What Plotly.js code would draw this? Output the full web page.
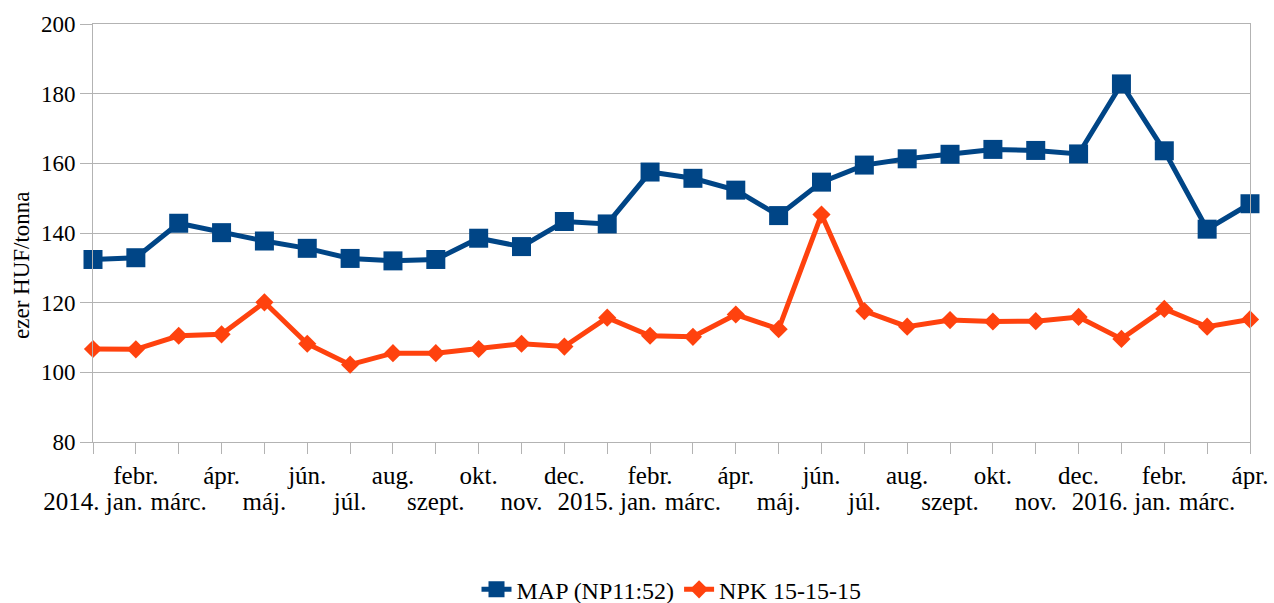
<!DOCTYPE html>
<html>
<head>
<meta charset="utf-8">
<script src="https://cdn.plot.ly/plotly-3.0.1.min.js"></script>
<style>html,body{margin:0;padding:0;background:#fff;}#chart{width:1274px;height:603px;}</style>
</head>
<body>
<div id="chart"></div>
<script>
const months = ["2014. jan.","febr.","márc.","ápr.","máj.","jún.","júl.","aug.","szept.","okt.","nov.","dec.",
  "2015. jan.","febr.","márc.","ápr.","máj.","jún.","júl.","aug.","szept.","okt.","nov.","dec.",
  "2016. jan.","febr.","márc.","ápr."];
const mapValues = [132.4,132.9,142.8,140.1,137.7,135.6,132.7,132.0,132.4,138.5,136.1,143.3,
  142.6,157.5,155.7,152.3,145.0,154.6,159.5,161.3,162.6,164.0,163.7,162.7,182.8,163.6,141.1,148.4];
const npkValues = [106.7,106.6,110.5,110.9,120.1,108.2,102.2,105.5,105.5,106.7,108.2,107.4,
  115.7,110.5,110.2,116.6,112.4,145.3,117.6,113.1,115.0,114.6,114.7,115.9,109.6,118.2,113.1,115.2];
const seriesNames = ["MAP (NP11:52)","NPK 15-15-15"];
const yTitle = "ezer HUF/tonna";

const idx = months.map((_, i) => i);
const lowerVals = idx.filter(i => i % 2 === 0);
const FONT = "Liberation Serif";
const GRID = "#b3b3b3";

const traces = [
  {x: idx, y: mapValues, name: seriesNames[0], type: "scatter", mode: "lines+markers",
   line: {color: "#004586", width: 5}, marker: {symbol: "square", size: 19, color: "#004586"}, cliponaxis: false},
  {x: idx, y: npkValues, name: seriesNames[1], type: "scatter", mode: "lines+markers",
   line: {color: "#ff420e", width: 5}, marker: {symbol: "diamond", size: 14, color: "#ff420e"}, cliponaxis: false},
  {x: idx, y: mapValues, xaxis: "x2", yaxis: "y", type: "scatter", mode: "markers",
   marker: {opacity: 0}, showlegend: false, hoverinfo: "skip"}
];

const layout = {
  width: 1274, height: 603,
  margin: {l: 93, r: 24, t: 24, b: 161, autoexpand: false},
  paper_bgcolor: "#fff", plot_bgcolor: "#fff",
  font: {family: FONT, size: 22, color: "#000"},
  showlegend: true,
  legend: {orientation: "h", x: 0.5, xanchor: "center", yref: "container", y: 0.022, yanchor: "middle",
    font: {family: FONT, size: 24, color: "#000"}, traceorder: "normal"},
  xaxis: {range: [0, 27], tickvals: idx, ticktext: idx.map(i => i % 2 === 1 ? months[i] : ""),
    ticks: "outside", ticklen: 11, tickcolor: GRID, showgrid: false, showline: true, linecolor: GRID,
    mirror: true, zeroline: false, tickangle: 0, automargin: false, tickfont: {family: FONT, size: 25, color: "#000"}},
  xaxis2: {range: [0, 27], overlaying: "x", anchor: "y", side: "bottom", tickvals: lowerVals,
    ticktext: lowerVals.map(i => months[i]), ticks: "", showgrid: false, showline: false, zeroline: false,
    tickangle: 0, automargin: false, ticklabelstandoff: 42, tickfont: {family: FONT, size: 25, color: "#000"}},
  yaxis: {range: [80, 200], dtick: 20, tick0: 80, ticks: "outside", ticklen: 12, tickcolor: GRID,
    gridcolor: GRID, gridwidth: 1, showline: true, linecolor: GRID, mirror: true, zeroline: false, automargin: false,
    tickfont: {family: FONT, size: 23, color: "#000"}},
  annotations: [{text: yTitle, xref: "paper", yref: "paper", x: (21 - 93) / 1157, y: (442 - 265) / 418,
    xanchor: "center", yanchor: "middle", textangle: -90, showarrow: false,
    font: {family: FONT, size: 23, color: "#000"}}]
};

Plotly.newPlot("chart", traces, layout, {displayModeBar: false, staticPlot: true});
</script>
</body>
</html>
